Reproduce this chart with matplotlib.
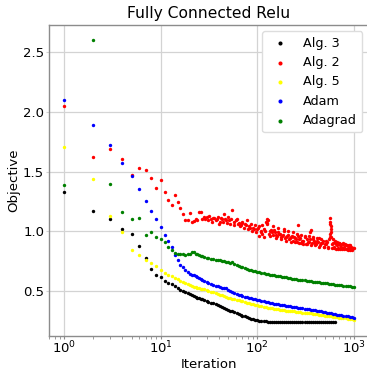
import matplotlib
matplotlib.use("Agg")
import matplotlib.pyplot as plt
from matplotlib.ticker import LogLocator, NullFormatter

# ---------------- data ----------------
iters_smooth = list(range(1, 21)) + [
    21, 22, 23, 24, 25, 26, 27, 28, 30, 31, 33, 35, 37, 39, 41, 43, 45, 47,
    50, 52, 55, 58, 61, 64, 67, 70, 74, 78, 82, 86, 90, 95, 100, 105, 110,
    116, 122, 128, 134, 141, 148, 155, 163, 171, 180, 189, 198, 208, 219,
    230, 241, 253, 266, 279, 293, 308, 323, 339, 356, 374, 393, 413, 434,
    455, 478, 502, 527, 553, 581, 610, 641, 673, 706, 741, 778, 817, 858,
    901, 946, 1000]

alg3 = [1.325, 1.166, 1.101, 1.019, 0.975, 0.874, 0.776, 0.681, 0.628, 0.611,
        0.585, 0.568, 0.553, 0.536, 0.522, 0.510, 0.500, 0.490, 0.480, 0.471,
        0.462, 0.455, 0.448, 0.442, 0.437, 0.432, 0.427, 0.422, 0.414, 0.409,
        0.401, 0.393, 0.385, 0.377, 0.370, 0.362, 0.355, 0.349, 0.340, 0.334,
        0.326, 0.318, 0.311, 0.304, 0.297, 0.291, 0.284, 0.277, 0.271, 0.266,
        0.262, 0.258, 0.254, 0.250, 0.247, 0.244, 0.242, 0.240, 0.239, 0.238,
        0.238, 0.237, 0.237, 0.237, 0.236, 0.237, 0.236, 0.237, 0.237, 0.236,
        0.237, 0.236, 0.237, 0.237, 0.236, 0.237, 0.236, 0.237, 0.237, 0.236,
        0.237, 0.237, 0.236, 0.237, 0.237, 0.236, 0.237, 0.237, 0.237, 0.236,
        0.237]

alg5 = [1.706, 1.440, 1.123, 0.992, 0.838, 0.796, 0.756, 0.734, 0.706, 0.672,
        0.650, 0.636, 0.622, 0.610, 0.596, 0.584, 0.574, 0.564, 0.555, 0.547,
        0.540, 0.535, 0.530, 0.526, 0.522, 0.518, 0.514, 0.511, 0.505, 0.500,
        0.493, 0.486, 0.479, 0.473, 0.467, 0.460, 0.453, 0.447, 0.440, 0.436,
        0.431, 0.427, 0.423, 0.419, 0.415, 0.411, 0.405, 0.400, 0.395, 0.391,
        0.387, 0.382, 0.378, 0.374, 0.370, 0.366, 0.362, 0.359, 0.356, 0.352,
        0.349, 0.346, 0.343, 0.340, 0.338, 0.336, 0.334, 0.332, 0.330, 0.328,
        0.326, 0.324, 0.321, 0.319, 0.317, 0.315, 0.313, 0.311, 0.309, 0.306,
        0.304, 0.301, 0.299, 0.297, 0.294, 0.291, 0.289, 0.287, 0.284, 0.282,
        0.279, 0.277, 0.275, 0.272, 0.270, 0.267, 0.265, 0.262, 0.260, 0.257]

adam = [2.098, 1.893, 1.720, 1.574, 1.465, 1.353, 1.255, 1.166, 1.101, 1.034,
        0.966, 0.916, 0.863, 0.800, 0.756, 0.720, 0.695, 0.672, 0.659, 0.644,
        0.636, 0.628, 0.620, 0.612, 0.605, 0.598, 0.591, 0.585, 0.574, 0.568,
        0.559, 0.551, 0.543, 0.536, 0.530, 0.524, 0.522, 0.520, 0.508, 0.500,
        0.491, 0.483, 0.475, 0.468, 0.461, 0.456, 0.451, 0.446, 0.441, 0.436,
        0.431, 0.427, 0.422, 0.418, 0.414, 0.410, 0.406, 0.402, 0.398, 0.395,
        0.392, 0.389, 0.386, 0.383, 0.380, 0.377, 0.374, 0.372, 0.369, 0.366,
        0.364, 0.361, 0.358, 0.355, 0.352, 0.349, 0.346, 0.343, 0.341, 0.338,
        0.335, 0.332, 0.329, 0.326, 0.322, 0.319, 0.316, 0.313, 0.310, 0.306,
        0.303, 0.300, 0.297, 0.294, 0.291, 0.288, 0.285, 0.282, 0.279, 0.275]

adagrad = [1.387, 2.600, 1.392, 1.162, 1.103, 1.109, 0.964, 0.989, 0.955, 0.937,
           0.910, 0.868, 0.840, 0.818, 0.812, 0.812, 0.810, 0.800, 0.810, 0.812,
           0.826, 0.822, 0.812, 0.805, 0.800, 0.795, 0.790, 0.784, 0.776, 0.773,
           0.768, 0.764, 0.760, 0.757, 0.755, 0.752, 0.748, 0.744, 0.738, 0.735,
           0.742, 0.728, 0.718, 0.708, 0.700, 0.695, 0.689, 0.684, 0.676, 0.672,
           0.668, 0.662, 0.657, 0.653, 0.649, 0.645, 0.641, 0.638, 0.635, 0.632,
           0.629, 0.626, 0.623, 0.620, 0.617, 0.614, 0.611, 0.608, 0.605, 0.602,
           0.599, 0.597, 0.594, 0.592, 0.589, 0.587, 0.584, 0.582, 0.579, 0.577,
           0.575, 0.572, 0.570, 0.568, 0.566, 0.563, 0.561, 0.559, 0.556, 0.554,
           0.552, 0.550, 0.547, 0.545, 0.543, 0.541, 0.539, 0.537, 0.535, 0.533]

iters_alg2 = [
    1, 2, 3, 4, 5, 6, 7, 8, 9, 10, 11, 12, 13, 14, 15, 16, 17, 18, 19, 20,
    21, 22, 23, 24, 25, 26, 27, 28, 29, 30, 31, 32, 33, 34, 35, 36, 37, 38,
    39, 40, 41, 42, 43, 44, 45, 46, 47, 48,
    50, 51, 52, 54, 55, 57, 58, 60,
    61, 63, 64, 66, 67, 69, 70, 72, 74, 76, 78, 80, 82, 84, 86, 88, 90, 93,
    95, 97, 100, 102, 105, 108, 110, 113, 116, 119, 122, 125, 128, 131, 134,
    138, 141, 144, 148, 151, 155, 159, 163, 167, 171, 175, 180, 184, 189,
    193, 198, 203, 208, 213, 219, 224, 230, 235, 241, 247, 253, 259, 266,
    272, 279, 286, 293, 300, 308, 315, 323, 331, 339, 347, 356, 365, 374,
    383, 393, 403, 413, 423, 434, 444, 455, 466, 478, 490, 502, 514, 527,
    540, 553, 566, 568, 570, 572, 575, 581, 595, 610, 625, 641, 657, 673,
    689, 706, 723, 741, 759, 778, 797, 817, 837, 858, 879, 901, 923, 946,
    970, 1000,
    103, 111, 118, 126, 127, 136, 146, 157, 165, 177,
    187, 200, 210, 222, 233, 245, 256, 262, 269, 283,
    297, 311, 327, 343, 352, 361, 379, 398, 418, 439,
    461, 484, 508, 534, 560, 564, 578, 588, 603, 617,
    633, 649, 665, 681, 697, 714, 732, 750, 768, 787,
    807, 827, 847, 868, 890, 912, 934, 958, 985]

alg2 = [
    2.048, 1.622, 1.687, 1.602, 1.470, 1.527, 1.513, 1.445, 1.359, 1.426,
    1.325, 1.265, 1.216, 1.300, 1.246, 1.193, 1.140, 1.092, 1.095, 1.149,
    1.08, 1.085, 1.10, 1.09, 1.16, 1.16, 1.10, 1.12, 1.10, 1.12, 1.09, 1.13,
    1.10, 1.08, 1.107, 1.11, 1.09, 1.10,
    1.12, 1.06, 1.08, 1.11, 1.10, 1.08, 1.14, 1.10, 1.09, 1.07,
    1.12, 1.09, 1.06, 1.10, 1.18, 1.05, 1.08, 1.09,
    1.10, 1.06, 1.07, 1.04, 1.05, 1.07, 1.08, 1.03, 1.06, 1.05, 1.09, 1.02,
    1.04, 1.03, 1.06, 1.00, 1.03, 1.02,
    1.05, 0.99, 1.02, 1.03, 1.04, 0.99, 1.00, 0.98, 1.02, 1.00, 1.08, 1.06,
    1.09, 0.98, 1.00,
    1.01, 0.99, 0.97, 1.01, 0.99, 0.97, 0.96, 0.99, 0.98, 0.98, 0.95, 0.96,
    0.97, 1.00,
    0.94, 0.95, 0.96, 0.97, 0.93, 0.94, 0.95, 0.96, 0.92, 0.95, 0.94, 0.93,
    0.91, 0.96,
    0.93, 0.94, 0.90, 0.92, 0.92, 0.95, 0.89, 0.93, 0.91, 0.91, 0.93, 1.01,
    0.90, 0.93,
    0.92, 0.90, 0.89, 0.92, 0.91, 0.94, 0.88, 0.90, 0.90, 0.92, 0.87, 0.89,
    0.89, 0.91,
    0.87, 0.93, 0.98, 1.11, 1.08, 1.02, 1.04, 0.95, 0.89, 0.90, 0.87, 0.92,
    0.89, 0.88,
    0.86, 0.90, 0.88, 0.87, 0.86, 0.89, 0.87, 0.88, 0.85, 0.86, 0.87, 0.88,
    0.85, 0.86,
    0.86, 0.855,
    0.96, 1.05, 0.95, 1.10, 1.07, 0.96, 1.04, 0.94, 1.03, 0.93,
    1.02, 0.92, 1.00, 0.91, 0.99, 0.91, 0.98, 1.05, 0.90, 0.97,
    0.89, 0.96, 0.89, 0.96, 0.99, 0.88, 0.95, 0.88, 0.94, 0.87,
    0.93, 0.87, 0.92, 0.86, 0.95, 1.06, 0.99, 0.86, 0.93, 0.86,
    0.91, 0.85, 0.91, 0.85, 0.90, 0.85, 0.89, 0.85, 0.90, 0.85,
    0.89, 0.85, 0.88, 0.845, 0.88, 0.845, 0.87, 0.845, 0.86]

# ---------------- plot ----------------
plt.rcParams["font.family"] = "DejaVu Sans"
fig = plt.figure(figsize=(3.67, 3.74), dpi=100)
ax = fig.add_axes([49 / 367, 38 / 374, (368.5 - 49) / 367, (336 - 25) / 374])

kw = dict(s=6, linewidths=0)
ax.scatter(iters_smooth[:len(alg3)], alg3, color="black", label="Alg. 3", **kw)
ax.scatter(iters_alg2, alg2, color="red", label="Alg. 2", **kw)
ax.scatter(iters_smooth, alg5, color="yellow", label="Alg. 5", **kw)
ax.scatter(iters_smooth, adam, color="blue", label="Adam", **kw)
ax.scatter(iters_smooth, adagrad, color="green", label="Adagrad", **kw)

ax.set_xscale("log")
ax.set_xlim(10 ** -0.155, 10 ** 3.15)
ax.set_ylim(0.12, 2.73)
ax.set_yticks([0.5, 1.0, 1.5, 2.0, 2.5])
ax.xaxis.set_minor_locator(LogLocator(base=10, subs=range(2, 10)))
ax.xaxis.set_minor_formatter(NullFormatter())

ax.grid(True, which="major", color="#d3d3d3", linewidth=0.9)
ax.set_axisbelow(True)
for sp in ax.spines.values():
    sp.set_color("#8c8c8c")
    sp.set_linewidth(1.0)
ax.tick_params(axis="x", which="both", direction="out", length=2,
               color="#8c8c8c", labelsize=9.5, pad=1)
ax.tick_params(axis="y", which="both", direction="out", length=2,
               color="#d3d3d3", labelsize=9.5, pad=1.5)

ax.set_title("Fully Connected Relu", fontsize=11.2, pad=5)
ax.set_xlabel("Iteration", fontsize=9.5, labelpad=1)
ax.set_ylabel("Objective", fontsize=9.5, labelpad=2)

ax.legend(loc="upper right", fontsize=9.2, markerscale=1.2, scatterpoints=1,
          framealpha=1.0, edgecolor="#dddddd", fancybox=True)

fig.savefig("out.png", dpi=100)
